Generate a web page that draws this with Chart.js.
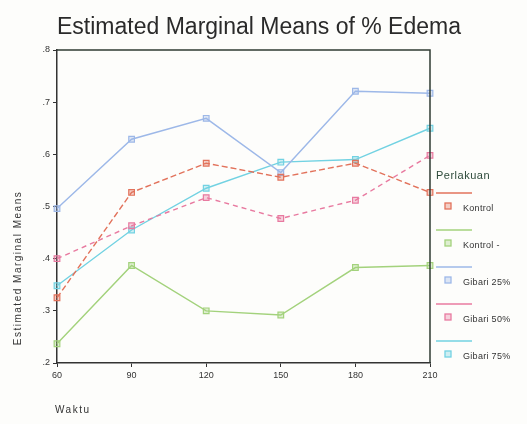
<!DOCTYPE html>
<html>
<head>
<meta charset="utf-8">
<script src="https://cdn.jsdelivr.net/npm/chart.js@4/dist/chart.umd.min.js"></script>
<style>
html,body{margin:0;padding:0;background:#fdfdfb;}
#wrap{width:527px;height:424px;position:relative;}
</style>
</head>
<body>
<div id="wrap"><canvas id="c" width="527" height="424"></canvas></div>
<script>
// ── data ──
const waktu=['60','90','120','150','180','210'];
const kontrol  =[0.325,0.527,0.583,0.556,0.583,0.527];
const kontrolMin=[0.237,0.387,0.300,0.292,0.383,0.387];
const gibari25 =[0.496,0.629,0.669,0.565,0.721,0.717];
const gibari50 =[0.400,0.463,0.517,0.477,0.512,0.598];
const gibari75 =[0.348,0.455,0.535,0.585,0.590,0.650];
const seriesNames=['Kontrol','Kontrol -','Gibari 25%','Gibari 50%','Gibari 75%'];
const yTicks=[0.2,0.3,0.4,0.5,0.6,0.7,0.8];

const cols=['#e2725b','#a3d27c','#9db8e8','#e87aa0','#72d2e2'];
const dashes=[[6,3],[],[],[5,4],[]];
const vals=[kontrol,kontrolMin,gibari25,gibari50,gibari75];

const ds=vals.map((v,i)=>({
  label:seriesNames[i],data:v,borderColor:cols[i],backgroundColor:cols[i]+'55',
  borderWidth:1.4,borderDash:dashes[i],pointStyle:'rect',pointRadius:4,
  pointBorderColor:cols[i],pointBorderWidth:1.2,tension:0,fill:false
}));

const FONT='"Liberation Sans", Arial, sans-serif';

// title, axis titles, frame and legend drawn after the chart
const extras={
  id:'extras',
  afterDraw(ch){
    const c=ch.ctx,a=ch.chartArea;
    c.save();
    c.fillStyle='#2a2a2a';
    c.font='23px '+FONT;
    c.textAlign='center';c.textBaseline='middle';
    c.fillText('Estimated Marginal Means of % Edema',259,28);
    // y axis title
    c.save();
    c.translate(18,268);c.rotate(-Math.PI/2);
    c.font='10px '+FONT;c.letterSpacing='1.5px';
    c.fillStyle='#333';
    c.fillText('Estimated Marginal Means',0,0);
    c.restore();
    // x axis title
    c.font='10px '+FONT;c.letterSpacing='1.5px';c.textAlign='left';
    c.fillStyle='#333';
    c.fillText('Waktu',55,410);
    c.letterSpacing='0px';
    // frame top/right
    c.strokeStyle='#2f3b33';c.lineWidth=1.5;
    c.beginPath();c.moveTo(a.left,a.top);c.lineTo(a.right,a.top);c.lineTo(a.right,a.bottom);c.stroke();
    // legend
    c.fillStyle='#2d4a3a';
    c.font='11px '+FONT;c.letterSpacing='0.5px';
    c.fillText('Perlakuan',436,176);
    c.font='9px '+FONT;c.letterSpacing='0.3px';
    ch.data.datasets.forEach((d,i)=>{
      const y0=193+i*37;
      c.strokeStyle=d.borderColor;c.lineWidth=1.3;c.setLineDash([]);
      c.beginPath();c.moveTo(436,y0);c.lineTo(472,y0);c.stroke();
      c.fillStyle=d.backgroundColor;
      c.fillRect(445,y0+10,6,6);c.strokeRect(445,y0+10,6,6);
      c.fillStyle='#333';
      c.fillText(d.label,463,y0+16);
    });
    c.restore();
  }
};

new Chart(document.getElementById('c'),{
  type:'line',
  data:{labels:waktu,datasets:ds},
  plugins:[extras],
  options:{
    responsive:false,animation:false,
    layout:{padding:{top:50,right:97,left:0,bottom:0}},
    plugins:{legend:{display:false},title:{display:false},tooltip:{enabled:false}},
    scales:{
      x:{
        type:'category',offset:false,
        grid:{display:true,drawOnChartArea:false,tickLength:4,color:'#333'},
        border:{color:'#333',width:1.5},
        ticks:{color:'#333',font:{size:9,family:FONT},padding:3,maxRotation:0},
        afterFit:s=>{s.height=61;}
      },
      y:{
        min:0.2,max:0.8,
        afterBuildTicks:s=>{s.ticks=yTicks.map(v=>({value:v}));},
        grid:{display:true,drawOnChartArea:false,tickLength:4,color:'#333'},
        border:{color:'#333',width:1.5},
        ticks:{color:'#333',font:{size:9,family:FONT},padding:3,
          callback:v=>('.'+Math.round(v*10))},
        afterFit:s=>{s.width=57;}
      }
    }
  }
});
</script>
</body>
</html>
